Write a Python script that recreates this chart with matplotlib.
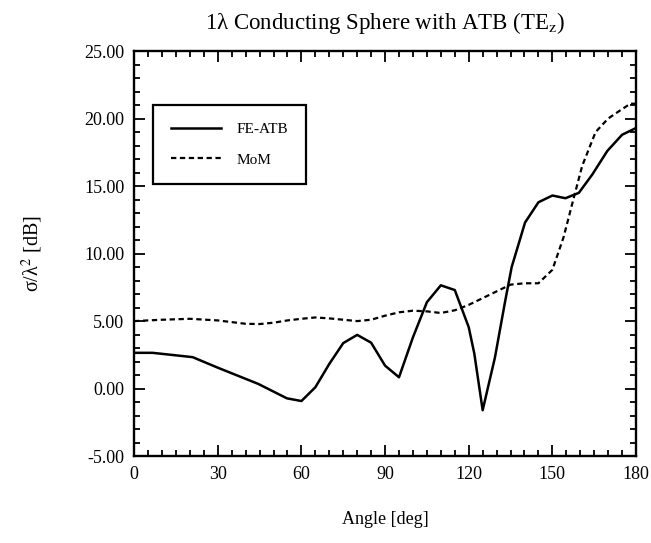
import numpy as np
import matplotlib as mpl
mpl.use('Agg')
import matplotlib.pyplot as plt
from matplotlib.ticker import MultipleLocator, FormatStrFormatter

plt.rcParams['font.family'] = ['Liberation Serif', 'DejaVu Serif']
plt.rcParams['mathtext.fontset'] = 'stix'

# FE-ATB (solid)
ang_fe = [0, 6.6, 21, 30, 44.5, 54.8, 60, 65, 70, 75, 80, 85, 90, 95, 100,
          105, 110, 115, 120, 122, 125, 129.4, 133, 135.4, 140.2, 145, 150,
          154.7, 159.5, 164.3, 169.7, 175, 180]
rcs_fe = [2.65, 2.65, 2.33, 1.55, 0.35, -0.72, -0.92, 0.1, 1.83, 3.37, 3.98,
          3.4, 1.7, 0.84, 3.8, 6.4, 7.65, 7.3, 4.55, 2.6, -1.6, 2.3, 6.4, 9.0,
          12.3, 13.8, 14.3, 14.1, 14.5, 15.85, 17.6, 18.8, 19.3]

# MoM (dashed)
ang_mom = [0, 10, 20, 30, 40, 45, 50, 55, 60, 65, 70, 75, 80, 85, 90, 95,
           100, 105, 110, 115, 120, 125, 130, 135, 140, 145, 150, 154,
           157.7, 160.7, 165.5, 170, 175, 178, 180]
rcs_mom = [5.0, 5.1, 5.17, 5.05, 4.8, 4.78, 4.88, 5.05, 5.17, 5.27, 5.2, 5.1,
           5.0, 5.1, 5.4, 5.65, 5.77, 5.72, 5.6, 5.8, 6.2, 6.7, 7.2, 7.7, 7.8,
           7.8, 8.8, 11.2, 14.15, 16.5, 19.0, 20.0, 20.7, 21.1, 21.1]

fig = plt.figure(figsize=(6.51, 5.43), dpi=100)
ax = fig.add_axes([0.206, 0.160, 0.771, 0.746])

ax.plot(ang_fe, rcs_fe, color='black', lw=1.8, label='FE-ATB')
ax.plot(ang_mom, rcs_mom, color='black', lw=1.6, ls=(0, (2.4, 1.6)), label='MoM')

ax.set_xlim(0, 180)
ax.set_ylim(-5, 25)
ax.xaxis.set_major_locator(MultipleLocator(30))
ax.xaxis.set_minor_locator(MultipleLocator(5))
ax.yaxis.set_major_locator(MultipleLocator(5))
ax.yaxis.set_minor_locator(MultipleLocator(1))
ax.yaxis.set_major_formatter(FormatStrFormatter('%.2f'))
ax.tick_params(which='both', direction='in', top=True, right=True,
               width=1.3, labelsize=13, colors='black')
ax.tick_params(which='major', length=8, pad=7)
ax.tick_params(which='minor', length=4)
for s in ax.spines.values():
    s.set_linewidth(1.7)

ax.set_title(r'1λ Conducting Sphere with ATB (TE$_\mathrm{z}$)', fontsize=16.5, pad=16)
ax.set_xlabel('Angle [deg]', fontsize=13, labelpad=20)
ax.set_ylabel(r'σ/λ$^2$ [dB]', fontsize=14.5, labelpad=28)

leg = ax.legend(loc='upper left', bbox_to_anchor=(0.038, 0.867), borderaxespad=0,
                fontsize=11, handlelength=3.3, handletextpad=1.0,
                labelspacing=1.1, borderpad=1.15, fancybox=False,
                edgecolor='black', framealpha=1)
leg.get_frame().set_linewidth(1.6)

fig.savefig('out.png', dpi=100)
